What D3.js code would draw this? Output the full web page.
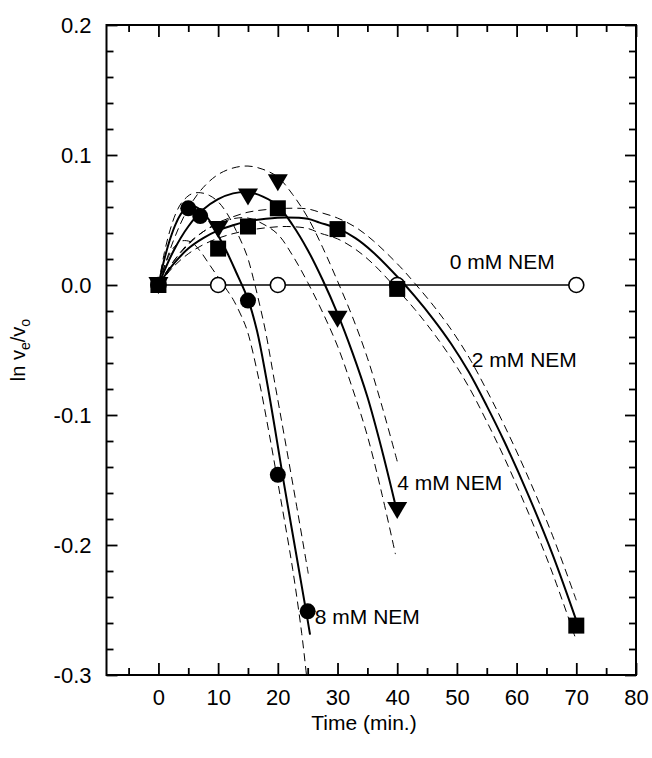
<!DOCTYPE html>
<html>
<head>
<meta charset="utf-8">
<script src="https://cdn.jsdelivr.net/npm/d3@7"></script>
<style>
body { margin: 0; background: #fff; }
svg { display: block; font-family: "Liberation Sans", Arial, Helvetica, sans-serif; }
</style>
</head>
<body>
<div id="demo"></div>
<script>
// measured points: time (min.) and ln ve/vo
let nem0Time = [0, 10, 20, 40, 70];
let nem0Value = [0, 0, 0, 0, 0];
let nem2Time = [0, 10, 15, 20, 30, 40, 70];
let nem2Value = [0, 0.028, 0.045, 0.059, 0.043, -0.003, -0.262];
let nem4Time = [0, 10, 15, 20, 30, 40];
let nem4Value = [0, 0.043, 0.068, 0.079, -0.026, -0.173];
let nem8Time = [0, 5, 7, 15, 20, 25];
let nem8Value = [0, 0.059, 0.053, -0.012, -0.146, -0.251];

// fitted curves (solid) and confidence bands (dashed), [time, value]
let nem2Fit = [[0,0],[2.5,0.016],[5,0.028],[7.5,0.036],[10,0.042],[12.5,0.046],[15,0.049],[18,0.051],[21.5,0.052],[25,0.051],[27,0.048],[30,0.0435],[33,0.036],[36,0.025],[40.5,0.004],[43,-0.009],[46,-0.026],[49,-0.045],[52,-0.067],[55,-0.093],[58,-0.121],[62,-0.162],[66,-0.207],[70.3,-0.262]];
let nem2Upper = [[0,0],[2.5,0.018],[5,0.032],[7.5,0.041],[10,0.048],[12.5,0.0525],[15,0.056],[18,0.058],[21.5,0.059],[25,0.0585],[27,0.056],[30,0.0515],[33,0.0445],[36,0.034],[40.5,0.014],[43,0.001],[46,-0.0155],[49,-0.034],[52,-0.0555],[55,-0.081],[58,-0.1085],[62,-0.1485],[66,-0.1925],[70,-0.2425]];
let nem2Lower = [[0,0],[2.5,0.014],[5,0.024],[7.5,0.031],[10,0.036],[12.5,0.0395],[15,0.042],[18,0.044],[21.5,0.045],[25,0.0435],[27,0.04],[30,0.0355],[33,0.0275],[36,0.016],[40.5,-0.006],[43,-0.019],[46,-0.0365],[49,-0.056],[52,-0.0785],[55,-0.105],[58,-0.1335],[62,-0.1755],[66,-0.2215],[70,-0.2735]];

let nem4Fit = [[0,0],[2.5,0.026],[5,0.045],[7.5,0.058],[10,0.066],[12.5,0.0705],[15,0.0715],[17.5,0.068],[20,0.061],[22.5,0.046],[25,0.027],[27.5,0.004],[30,-0.022],[32.5,-0.052],[35,-0.086],[37.5,-0.128],[40,-0.175]];
let nem4Upper = [[0,0],[2.5,0.034],[5,0.059],[7.5,0.075],[10,0.085],[12.5,0.09],[15,0.0915],[17.5,0.089],[20,0.083],[22.5,0.0695],[25,0.052],[27.5,0.029],[30,0.003],[32.5,-0.0245],[35,-0.056],[37.5,-0.094],[40.2,-0.139]];
let nem4Lower = [[0,0],[2.5,0.018],[5,0.031],[7.5,0.041],[10,0.047],[12.5,0.051],[15,0.0515],[17.5,0.047],[20,0.039],[22.5,0.0225],[25,0.002],[27.5,-0.021],[30,-0.047],[32.5,-0.0795],[35,-0.116],[37.5,-0.162],[39.7,-0.207]];

let nem8Fit = [[0,0],[1,0.02],[2,0.036],[3,0.048],[4,0.056],[5.5,0.061],[7,0.058],[8.5,0.05],[10,0.038],[11.5,0.025],[13,0.01],[15,-0.011],[16.5,-0.035],[18,-0.07],[19.5,-0.11],[21,-0.152],[23,-0.205],[25,-0.258],[25.4,-0.269]];
let nem8Upper = [[0,0],[1,0.025],[2,0.043],[3,0.056],[4,0.064],[5.5,0.07],[7,0.071],[8.5,0.069],[10,0.064],[11.5,0.055],[13,0.042],[14.8,0.023],[15.9,0.005],[17,-0.016],[18,-0.037],[19.4,-0.073],[21,-0.114],[23,-0.166],[25.1,-0.222]];
let nem8Lower = [[0,0],[1,0.014],[2,0.025],[3,0.031],[4,0.034],[5.5,0.033],[7,0.026],[8.5,0.016],[10,0.006],[11.5,-0.004],[12.5,-0.011],[14.2,-0.027],[15,-0.037],[16.7,-0.07],[18.5,-0.113],[20.5,-0.165],[22.5,-0.219],[24,-0.268],[24.8,-0.3],[25.1,-0.312]];

let xTickLabels = [0, 10, 20, 30, 40, 50, 60, 70, 80];
let yTickLabels = [-0.3, -0.2, -0.1, 0.0, 0.1, 0.2];
let seriesNames = ["0 mM NEM", "2 mM NEM", "4 mM NEM", "8 mM NEM"];

let w = 652;
let h = 758;
let box = {left: 106.5, right: 636, top: 25, bottom: 675};

let svg = d3.select("#demo")
    .append("svg")
    .attr("width", w)
    .attr("height", h);

svg.append("rect").attr("width", w).attr("height", h).attr("fill", "#fff");

let x = d3.scaleLinear().domain([-8.7, 80]).range([box.left, box.right]);
let y = d3.scaleLinear().domain([-0.3, 0.2]).range([box.bottom, box.top]);

let xMinor = d3.range(-5, 80, 5).filter((d) => d % 10 !== 0);
let yMinor = d3.range(-14, 10).map((d) => d * 0.02).filter((d) => Math.abs(Math.round(d * 50)) % 5 !== 0);

const styleAxis = (g) => {
    g.select(".domain").remove();
    g.selectAll("line").attr("stroke", "#000").attr("stroke-width", 1.8);
    g.selectAll("text").attr("fill", "#000").attr("font-size", "22px");
};

// bottom
svg.append("g").attr("transform", "translate(0," + box.bottom + ")")
    .call(d3.axisBottom(x).tickValues(xMinor).tickSize(-7).tickFormat(""))
    .call(styleAxis);
svg.append("g").attr("transform", "translate(0," + box.bottom + ")")
    .call(d3.axisBottom(x).tickValues(xTickLabels).tickSize(-12).tickPadding(14).tickFormat((d) => d))
    .call(styleAxis);
// top
svg.append("g").attr("transform", "translate(0," + box.top + ")")
    .call(d3.axisTop(x).tickValues(xMinor).tickSize(-7).tickFormat(""))
    .call(styleAxis);
svg.append("g").attr("transform", "translate(0," + box.top + ")")
    .call(d3.axisTop(x).tickValues(xTickLabels).tickSize(-12).tickFormat(""))
    .call(styleAxis);
// left
svg.append("g").attr("transform", "translate(" + box.left + ",0)")
    .call(d3.axisLeft(y).tickValues(yMinor).tickSize(-7).tickFormat(""))
    .call(styleAxis);
svg.append("g").attr("transform", "translate(" + box.left + ",0)")
    .call(d3.axisLeft(y).tickValues(yTickLabels).tickSize(-11).tickPadding(15).tickFormat((d) => d.toFixed(1)))
    .call(styleAxis);
// right
svg.append("g").attr("transform", "translate(" + box.right + ",0)")
    .call(d3.axisRight(y).tickValues(yMinor).tickSize(-7).tickFormat(""))
    .call(styleAxis);
svg.append("g").attr("transform", "translate(" + box.right + ",0)")
    .call(d3.axisRight(y).tickValues(yTickLabels).tickSize(-11).tickFormat(""))
    .call(styleAxis);

// frame
svg.append("rect")
    .attr("x", box.left)
    .attr("y", box.top)
    .attr("width", box.right - box.left)
    .attr("height", box.bottom - box.top)
    .attr("fill", "none")
    .attr("stroke", "#000")
    .attr("stroke-width", 2);

svg.append("defs").append("clipPath").attr("id", "plot")
    .append("rect")
    .attr("x", box.left).attr("y", box.top)
    .attr("width", box.right - box.left).attr("height", box.bottom - box.top);

let plot = svg.append("g").attr("clip-path", "url(#plot)");

let curve = d3.line()
    .x((d) => x(d[0]))
    .y((d) => y(d[1]))
    .curve(d3.curveCatmullRom.alpha(0.5));

[nem2Upper, nem2Lower, nem4Upper, nem4Lower, nem8Upper, nem8Lower].forEach((band) => {
    plot.append("path")
        .attr("d", curve(band))
        .attr("fill", "none")
        .attr("stroke", "#000")
        .attr("stroke-width", 1)
        .attr("stroke-dasharray", "8,5");
});

[nem2Fit, nem4Fit, nem8Fit].forEach((fit) => {
    plot.append("path")
        .attr("d", curve(fit))
        .attr("fill", "none")
        .attr("stroke", "#000")
        .attr("stroke-width", 2);
});

// 0 mM NEM: straight line through the points
plot.append("path")
    .attr("d", d3.line().x((d, i) => x(nem0Time[i])).y((d) => y(d))(nem0Value))
    .attr("fill", "none")
    .attr("stroke", "#000")
    .attr("stroke-width", 1.6);

plot.selectAll(".open")
    .data(nem0Value)
    .enter()
    .append("circle")
    .attr("cx", (d, i) => x(nem0Time[i]))
    .attr("cy", (d) => y(d))
    .attr("r", 7.5)
    .attr("fill", "#fff")
    .attr("stroke", "#000")
    .attr("stroke-width", 1.6);

plot.selectAll(".dot8")
    .data(nem8Value)
    .enter()
    .append("circle")
    .attr("cx", (d, i) => x(nem8Time[i]))
    .attr("cy", (d) => y(d))
    .attr("r", 8)
    .attr("fill", "#000");

plot.selectAll(".tri4")
    .data(nem4Value)
    .enter()
    .append("path")
    .attr("d", "M-10,-8L10,-8L0,9Z")
    .attr("transform", (d, i) => "translate(" + x(nem4Time[i]) + "," + y(d) + ")")
    .attr("fill", "#000");

plot.selectAll(".sq2")
    .data(nem2Value)
    .enter()
    .append("rect")
    .attr("x", (d, i) => x(nem2Time[i]) - 8)
    .attr("y", (d) => y(d) - 8)
    .attr("width", 16)
    .attr("height", 16)
    .attr("fill", "#000");

// series labels
let labelPos = [[48.8, 0.0123], [52.5, -0.0633], [40, -0.158], [26.2, -0.261]];
svg.selectAll(".series-label")
    .data(seriesNames)
    .enter()
    .append("text")
    .attr("x", (d, i) => x(labelPos[i][0]))
    .attr("y", (d, i) => y(labelPos[i][1]))
    .attr("font-size", "21px")
    .text((d) => d);

svg.append("text")
    .attr("x", 364)
    .attr("y", 730)
    .attr("text-anchor", "middle")
    .attr("font-size", "21px")
    .text("Time (min.)");

let ylab = svg.append("text")
    .attr("transform", "translate(25,350) rotate(-90)")
    .attr("text-anchor", "middle")
    .attr("font-size", "20px");
ylab.append("tspan").text("ln v");
ylab.append("tspan").attr("font-size", "14px").attr("dy", 5).text("e");
ylab.append("tspan").attr("dy", -5).text("/v");
ylab.append("tspan").attr("font-size", "14px").attr("dy", 5).text("o");
</script>
</body>
</html>
